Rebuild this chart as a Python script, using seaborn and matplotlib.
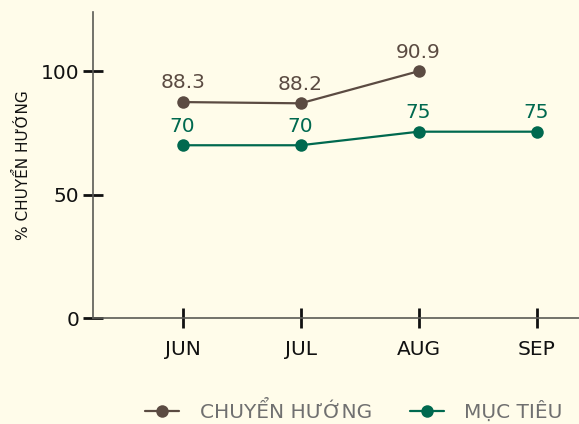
import numpy as np
import pandas as pd
import seaborn as sns
import matplotlib.pyplot as plt

months = ['JUN', 'JUL', 'AUG', 'SEP']
# point heights as drawn in the chart
chuyen_huong = [87.5, 87.0, 100.0, np.nan]
muc_tieu = [70.0, 70.0, 75.5, 75.5]
# value labels as printed above the points
chuyen_huong_labels = ['88.3', '88.2', '90.9', '']
muc_tieu_labels = ['70', '70', '75', '75']

series_names = ['CHUYỂN HƯỚNG', 'MỤC TIÊU']
colors = ['#5b4b42', '#00694f']
bg = '#fffcea'

df = pd.DataFrame({
    'x': list(range(len(months))) * 2,
    'value': chuyen_huong + muc_tieu,
    'series': [series_names[0]] * 4 + [series_names[1]] * 4,
})

sns.set_style('ticks')
plt.rcParams['font.family'] = ['DejaVu Sans']

fig = plt.figure(figsize=(5.79, 4.24), dpi=100, facecolor=bg)
ax = fig.add_axes([93 / 579, 1 - 318 / 424, 1 - 93 / 579, (318 - 12) / 424])
ax.set_facecolor(bg)

sns.lineplot(data=df, x='x', y='value', hue='series', palette=colors,
             marker='o', markersize=9, markeredgewidth=0, linewidth=1.6,
             ax=ax, legend=False)

for vals, labels, c in [(chuyen_huong, chuyen_huong_labels, colors[0]),
                        (muc_tieu, muc_tieu_labels, colors[1])]:
    for i, (v, lab) in enumerate(zip(vals, labels)):
        if lab and not np.isnan(v):
            ax.annotate(lab, (i, v), xytext=(0, 7), textcoords='offset points',
                        ha='center', va='bottom', fontsize=14.5, color=c)

ax.set_xlim(-0.76, 3.36)
ax.set_ylim(0, 124)
ax.set_xticks(range(len(months)))
ax.set_xticklabels(months)
ax.set_yticks([0, 50, 100])
ax.tick_params(axis='both', direction='inout', length=14, width=2,
               color='#111111', labelsize=14.5, labelcolor='#111111')
ax.tick_params(axis='x', pad=9)
ax.tick_params(axis='y', pad=3)
ax.set_xlabel('')
ax.set_ylabel('% CHUYỂN HƯỚNG', fontsize=11, color='#111111')
ax.yaxis.set_label_coords(-0.128, 0.5)

for s in ['top', 'right']:
    ax.spines[s].set_visible(False)
for s in ['left', 'bottom']:
    ax.spines[s].set_color('#5a5a55')
    ax.spines[s].set_linewidth(1.2)

handles = [plt.Line2D([], [], color=c, marker='o', markersize=9,
                      markeredgewidth=0, linewidth=1.6) for c in colors]
leg = fig.legend(handles, series_names, loc='center', ncol=2,
                 bbox_to_anchor=(354 / 579, 1 - 411 / 424), frameon=False,
                 fontsize=14.5, handlelength=1.7, columnspacing=1.9,
                 handletextpad=1.0)
for t in leg.get_texts():
    t.set_color('#707070')

fig.savefig('out.png', dpi=100, facecolor=bg)
